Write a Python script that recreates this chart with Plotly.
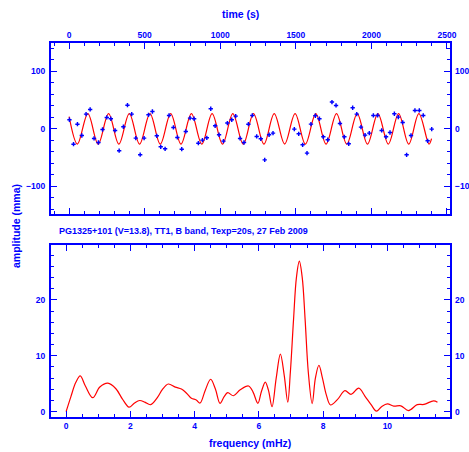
import plotly.graph_objects as go

# ---- light curve (time series) ----
obs_t = [2, 29, 55, 84, 112, 139, 165, 194, 221, 249, 276, 304, 331, 359, 386, 414, 441, 470,
         496, 525, 551, 580, 606, 635, 661, 690, 716, 745, 772, 800, 827, 855, 882, 911, 937,
         966, 992, 1021, 1047, 1076, 1102, 1131, 1157, 1186, 1212, 1241, 1268, 1294, 1323, 1349,
         1490, 1519, 1545, 1574, 1600, 1629, 1656, 1682, 1711, 1739, 1766, 1792, 1821, 1850,
         1876, 1903, 1931, 1958, 1986, 2013, 2041, 2068, 2097, 2123, 2152, 2178, 2207, 2233,
         2262, 2288, 2317, 2343, 2372, 2399]
obs_v = [15.7, -26.7, 8, -11.6, 25.5, 33.6, -16.8, -23.8, -1.2, 19.7, 17.4, -2.9, -38, 3.5, 41,
         25.5, -16.2, -45, -16.2, 24.3, 30, -12.2, -31.3, -34.8, 23.2, 2.3, -15, -35.4, -4.6,
         18.5, 17.4, -25, -19.7, -15.7, 34.8, 5.2, -10.4, -21.4, 9.9, 15.7, 22, -16.8, -23.8, 8,
         23.2, -13.3, -17.4, -54, -10.4, -7.5, -0.6, -8.7, -27.8, -42.3, 8.1, 22.6, 17.4, -13.9,
         -19.1, 46.4, 40.6, 9.3, -13.9, -26.1, 36.5, 25.5, 2.9, -11, -7.5, 23.2, 23.2, -2.9,
         -13.9, -6.4, 26.1, 20.3, 11, -45.2, -11.6, 31.9, 31.9, 23.2, -20.9, -0.6]

# sine-fit curve: start, alternating troughs/peaks, end
fit_t = [0, 55, 124, 192, 261, 329, 398, 466, 535, 603, 672, 740, 809, 878, 946, 1015, 1083,
         1152, 1220, 1289, 1357, 1426, 1495, 1563, 1632, 1700, 1769, 1837, 1906, 1974, 2043,
         2112, 2180, 2247, 2314, 2381, 2398]
fit_v = [21, -26.5, 26.5, -26.5, 26.5, -26.5, 26.5, -26.5, 26.5, -26.5, 26.5, -26.5, 26.5,
         -26.5, 26.5, -26.5, 26.5, -26.5, 26.5, -26.5, 26.5, -26.5, 26.5, -26.5, 26.5, -26.5,
         26.5, -26.5, 26.5, -26.5, 26.5, -26.5, 26.5, -26.5, 26.5, -26.5, -17]

# ---- amplitude spectrum ----
freq = [0, 0.15, 0.3, 0.44, 0.6, 0.83, 1.05, 1.3, 1.55, 1.75, 1.96, 2.12, 2.29, 2.45, 2.63,
        2.85, 3.0, 3.18, 3.4, 3.59, 3.75, 3.9, 4.05, 4.17, 4.33, 4.5, 4.65, 4.79, 4.92, 5.03,
        5.21, 5.42, 5.68, 5.82, 5.97, 6.08, 6.2, 6.3, 6.41, 6.54, 6.67, 6.79, 6.9, 6.98, 7.08,
        7.17, 7.26, 7.35, 7.44, 7.54, 7.66, 7.76, 7.87, 7.98, 8.1, 8.23, 8.45, 8.68, 8.87, 9.11,
        9.3, 9.5, 9.66, 9.82, 10.0, 10.2, 10.42, 10.66, 10.93, 11.14, 11.44, 11.56]
amp = [0, 2.7, 5.2, 6.4, 4.6, 2.5, 4.4, 5.1, 4.1, 2.3, 0.8, 1.5, 2.0, 1.7, 1.25,
       2.6, 4.0, 4.95, 4.4, 4.05, 3.3, 2.4, 2.1, 1.55, 3.8, 5.8, 4.0, 1.5, 2.7, 3.4,
       2.85, 3.9, 4.6, 3.5, 1.5, 3.6, 5.3, 3.8, 0.9, 6.0, 10.3, 6.5, 1.7, 7.0, 16.5,
       24.0, 26.9, 24.0, 16.5, 7.0, 1.45, 6.0, 8.3, 6.0, 3.0, 1.2, 2.2, 3.75, 3.1, 4.2,
       2.8, 1.2, 0.1, 0.9, 1.4, 1.0, 1.05, 0.2, 1.25, 1.3, 1.95, 1.7]

annot_text = "PG1325+101 (V=13.8), TT1, B band, Texp=20s, 27 Feb 2009"

BLUE = "#0000ff"
RED = "#ff0000"
W, H = 469, 452
FONT = "Liberation Sans"

def px(x):
    return x / W

def py(y):
    return 1 - y / H

fig = go.Figure()
fig.add_trace(go.Scatter(x=fit_t, y=fit_v, mode="lines", line=dict(color=RED, width=1.2, shape="spline", smoothing=1),
                         xaxis="x", yaxis="y", hoverinfo="skip"))
fig.add_trace(go.Scatter(x=obs_t, y=obs_v, mode="markers", marker=dict(symbol="cross", size=3.6, color=BLUE,
                         line=dict(width=0)), xaxis="x", yaxis="y"))
fig.add_trace(go.Scatter(x=freq, y=amp, mode="lines", line=dict(color=RED, width=1.2, shape="spline", smoothing=1),
                         xaxis="x2", yaxis="y2"))
# dummy traces so the right-hand label axes are drawn
fig.add_trace(go.Scatter(x=[None], y=[None], xaxis="x", yaxis="y3", hoverinfo="skip"))
fig.add_trace(go.Scatter(x=[None], y=[None], xaxis="x2", yaxis="y4", hoverinfo="skip"))

xdom = [px(51), px(450)]
top_dom = [py(214), py(43)]
bot_dom = [py(417), py(245)]

tickfont = dict(family=FONT, size=8.5, color=BLUE, weight="bold")
common = dict(showgrid=False, zeroline=False, showline=True, linecolor=BLUE, linewidth=2,
              ticks="inside", ticklen=6, tickwidth=1.2, tickcolor=BLUE, mirror="ticks",
              tickfont=tickfont, automargin=False)

yrange_top = [-148, 149]
yrange_bot = [-0.95, 29.8]

fig.update_layout(
    width=W, height=H, margin=dict(l=0, r=0, t=0, b=0, autoexpand=False),
    paper_bgcolor="white", plot_bgcolor="white", showlegend=False,
    xaxis=dict(domain=xdom, anchor="y", side="top", range=[-120, 2520], dtick=500, tick0=0,
               minor=dict(dtick=100, ticklen=3, ticks="inside", tickcolor=BLUE, tickwidth=1),
               **common),
    yaxis=dict(domain=top_dom, anchor="x", range=yrange_top, dtick=100, tick0=0,
               minor=dict(dtick=20, ticklen=3, ticks="inside", tickcolor=BLUE, tickwidth=1),
               ticklabelstandoff=2, **common),
    yaxis3=dict(overlaying="y", anchor="x", side="right", range=yrange_top, dtick=100, tick0=0,
                showgrid=False, zeroline=False, showline=False, ticks="", tickfont=tickfont,
                ticklabelstandoff=4, automargin=False),
    xaxis2=dict(domain=xdom, anchor="y2", range=[-0.47, 11.95], dtick=2, tick0=0,
                minor=dict(dtick=0.5, ticklen=3, ticks="inside", tickcolor=BLUE, tickwidth=1),
                **common),
    yaxis2=dict(domain=bot_dom, anchor="x2", range=yrange_bot, dtick=10, tick0=0,
                minor=dict(dtick=2, ticklen=3, ticks="inside", tickcolor=BLUE, tickwidth=1),
                ticklabelstandoff=2, **common),
    yaxis4=dict(overlaying="y2", anchor="x2", side="right", range=yrange_bot, dtick=10, tick0=0,
                showgrid=False, zeroline=False, showline=False, ticks="", tickfont=tickfont,
                ticklabelstandoff=4, automargin=False),
)

title_font = dict(family=FONT, size=10.5, color=BLUE, weight="bold")
fig.add_annotation(text="time (s)", x=px(241), y=py(14), xref="paper", yref="paper",
                   showarrow=False, font=title_font, xanchor="center", yanchor="middle")
fig.add_annotation(text="frequency (mHz)", x=px(250), y=py(443), xref="paper", yref="paper",
                   showarrow=False, font=title_font, xanchor="center", yanchor="middle")
fig.add_annotation(text="amplitude (mma)", x=px(16), y=py(226), xref="paper", yref="paper",
                   showarrow=False, font=title_font, textangle=-90, xanchor="center", yanchor="middle")
fig.add_annotation(text=annot_text, x=px(57), y=py(230.5), xref="paper", yref="paper",
                   showarrow=False, font=dict(family=FONT, size=9, color=BLUE, weight="bold"),
                   xanchor="left", yanchor="middle")

fig.write_html("out.html", config={"displayModeBar": False},
               post_script="document.body.style.margin='0';")
